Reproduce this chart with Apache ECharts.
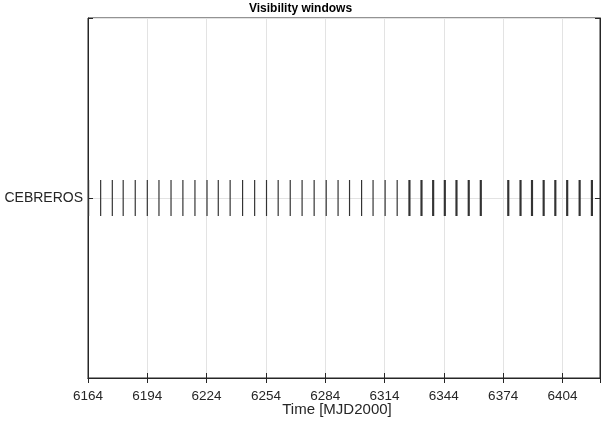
<!DOCTYPE html>
<html>
<head>
<meta charset="utf-8">
<script src="https://cdn.jsdelivr.net/npm/echarts@6/dist/echarts.min.js"></script>
<style>
  html, body { margin: 0; padding: 0; background: #fff; }
  #chart { width: 601px; height: 429px; }
</style>
</head>
<body>
<div id="chart"></div>
<script>
// station and visibility windows (MJD2000 days)
var stations = ['CEBREROS'];
var windowStart = [
  6164.0, 6170.1, 6176.0, 6181.5, 6187.6, 6193.7, 6199.6, 6205.7, 6211.7, 6217.8,
  6223.9, 6229.6, 6235.6, 6241.9, 6248.0, 6254.0, 6259.9, 6266.0, 6272.0, 6278.1,
  6284.2, 6290.2, 6296.0, 6302.1, 6307.9, 6314.0, 6320.1,
  6326.05, 6332.15, 6338.05, 6343.95, 6349.85, 6356.05, 6362.15,
  6376.05, 6382.25, 6388.05, 6393.95, 6399.85, 6405.85, 6412.15, 6418.35
];
var windowEnd = [
  6164.6, 6170.7, 6176.6, 6182.1, 6188.2, 6194.3, 6200.2, 6206.3, 6212.3, 6218.4,
  6224.5, 6230.2, 6236.2, 6242.5, 6248.6, 6254.6, 6260.5, 6266.6, 6272.6, 6278.7,
  6284.8, 6290.8, 6296.6, 6302.7, 6308.5, 6314.6, 6320.7,
  6327.15, 6333.25, 6339.15, 6345.05, 6350.95, 6357.15, 6363.25,
  6377.15, 6383.35, 6389.15, 6395.05, 6400.95, 6406.95, 6413.25, 6419.45
];
var xMin = 6164, xMax = 6423, xStep = 30;

var data = [];
for (var i = 0; i < windowStart.length; i++) {
  data.push([windowStart[i], windowEnd[i], 1]);
}

var dark = '#262626';
var font = 'Liberation Sans, Arial, sans-serif';

function renderItem(params, api) {
  var p0 = api.coord([api.value(0), api.value(2)]);
  var p1 = api.coord([api.value(1), api.value(2)]);
  var h = api.size([0, 0.2])[1];
  var w = Math.max(p1[0] - p0[0], 1);
  return {
    type: 'rect',
    shape: { x: p0[0], y: p0[1] - h / 2, width: w, height: h },
    style: { fill: '#333333' }
  };
}

var myChart = echarts.init(document.getElementById('chart'));
var option = {
  backgroundColor: '#ffffff',
  animation: false,
  title: {
    text: 'Visibility windows',
    left: 'center',
    top: 3,
    padding: 0,
    textStyle: { fontFamily: font, fontSize: 12, fontWeight: 'bold', color: '#000' }
  },
  grid: {
    left: 88, right: 1, top: 18, bottom: 51,
    outerBoundsMode: 'none',
    show: true, borderColor: dark, borderWidth: 1
  },
  xAxis: [{
    type: 'value',
    min: xMin, max: xMax, interval: xStep,
    name: 'Time [MJD2000]',
    nameLocation: 'middle',
    nameGap: 24,
    nameMoveOverlap: false,
    nameTextStyle: { fontFamily: font, fontSize: 15, color: dark, padding: [0, 14, 0, 0] },
    axisLine: { lineStyle: { color: dark } },
    axisTick: { inside: true, length: 5, lineStyle: { color: dark } },
    axisLabel: {
      fontFamily: font, fontSize: 13.5, color: dark, margin: 11,
      formatter: function (v) { return (v - xMin) % xStep === 0 ? String(v) : ''; }
    },
    splitLine: { show: true, lineStyle: { color: '#e3e3e3' } }
  }, {
    type: 'value',
    position: 'top',
    min: xMin, max: xMax, interval: xStep,
    axisLine: { lineStyle: { color: dark } },
    axisTick: { inside: true, length: 5, lineStyle: { color: dark } },
    axisLabel: { show: false },
    splitLine: { show: false }
  }],
  yAxis: [{
    type: 'value',
    min: 0, max: 2, interval: 1,
    axisLine: { show: true, lineStyle: { color: dark } },
    axisTick: { show: true, inside: true, length: 5, lineStyle: { color: dark } },
    axisLabel: {
      fontFamily: font, fontSize: 14, color: dark, margin: 5,
      formatter: function (v) { return v === 1 ? stations[0] : ''; }
    },
    splitLine: { show: true, lineStyle: { color: '#e3e3e3' } }
  }, {
    type: 'value',
    position: 'right',
    min: 0, max: 2, interval: 1,
    axisLine: { show: true, lineStyle: { color: dark } },
    axisTick: { show: true, inside: true, length: 5, lineStyle: { color: dark } },
    axisLabel: { show: false },
    splitLine: { show: false }
  }],
  series: [{
    type: 'custom',
    renderItem: renderItem,
    encode: { x: [0, 1], y: 2 },
    data: data,
    clip: true
  }]
};
myChart.setOption(option);
</script>
</body>
</html>
